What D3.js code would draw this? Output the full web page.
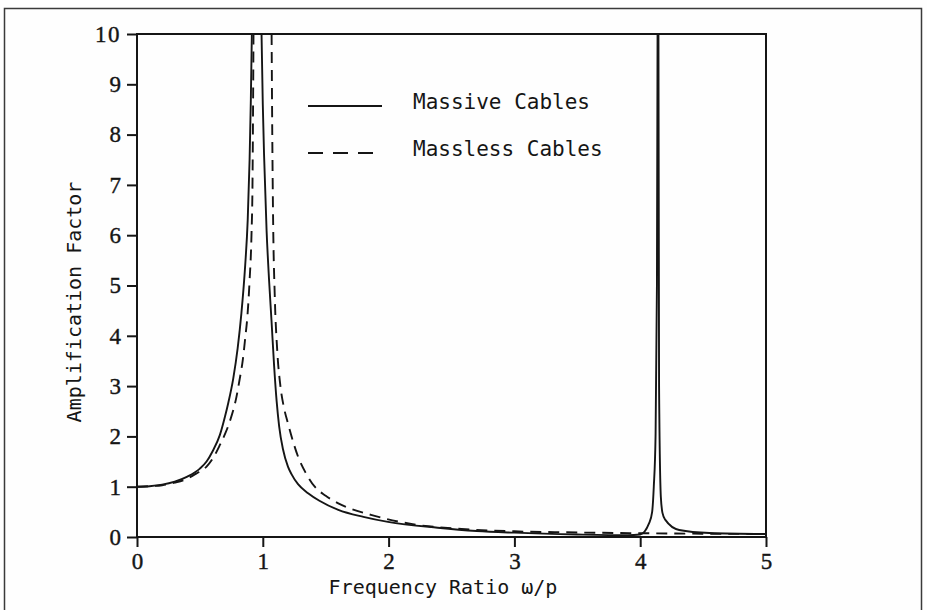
<!DOCTYPE html>
<html>
<head>
<meta charset="utf-8">
<script src="https://cdn.jsdelivr.net/npm/d3@7/dist/d3.min.js"></script>
<style>
  html, body { margin: 0; padding: 0; background: #fefefe; }
  svg { display: block; }
</style>
</head>
<body>
<svg id="chart" width="927" height="610"></svg>
<script>
var xTicks = [0, 1, 2, 3, 4, 5];
var yTicks = [0, 1, 2, 3, 4, 5, 6, 7, 8, 9, 10];
var seriesNames = ['Massive Cables', 'Massless Cables'];

// null = off the top of the plot
var massiveR = [0, 0.1, 0.2, 0.3, 0.4, 0.5, 0.553, 0.6, 0.659, 0.7, 0.725, 0.765, 0.8, 0.83, 0.86, 0.88, 0.895, 0.905, 0.913,
                0.95,
                0.99, 1.0, 1.01, 1.03, 1.05, 1.069, 1.09, 1.11, 1.13, 1.16, 1.2, 1.228, 1.28, 1.36, 1.45, 1.6, 1.8, 1.995,
                2.39, 2.7, 3.0, 3.5, 3.9, 4.0,
                4.07, 4.095, 4.108, 4.122, 4.133, 4.138,
                4.141,
                4.145, 4.15, 4.164, 4.177, 4.2, 4.31, 4.55, 5.0];
var massiveA = [1.0, 1.01, 1.04, 1.1, 1.2, 1.36, 1.5, 1.7, 2.03, 2.4, 2.66, 3.15, 3.75, 4.45, 5.4, 6.3, 7.5, 8.7, 10,
                null,
                10, 8.6, 7.6, 6.1, 5.1, 4.31, 3.4, 2.7, 2.2, 1.75, 1.4, 1.25, 1.05, 0.87, 0.72, 0.54, 0.4, 0.3,
                0.185, 0.12, 0.086, 0.05, 0.035, 0.05,
                0.27, 0.5, 1.0, 2.0, 5.0, 10,
                null,
                10, 3.0, 0.8, 0.48, 0.34, 0.14, 0.08, 0.06];

var masslessR = [0, 0.1, 0.2, 0.3, 0.4, 0.47, 0.553, 0.6, 0.659, 0.7, 0.738, 0.791, 0.817, 0.84, 0.86, 0.878, 0.895, 0.91, 0.918, 0.922, 0.926,
                 1.0,
                 1.07, 1.075, 1.082, 1.095, 1.115, 1.14, 1.17, 1.2, 1.28, 1.34, 1.413, 1.5, 1.6, 1.86, 2.18, 2.58, 3.0, 3.5, 4.0, 4.5, 5.0];
var masslessA = [1.0, 1.01, 1.03, 1.08, 1.16, 1.26, 1.4, 1.55, 1.83, 2.05, 2.3, 2.79, 3.15, 3.5, 3.95, 4.4, 5.1, 6.0, 7.0, 8.3, 10,
                 null,
                 10, 8.1, 6.3, 4.8, 3.7, 3.0, 2.55, 2.26, 1.6, 1.28, 1.0, 0.82, 0.67, 0.44, 0.26, 0.16, 0.113, 0.09, 0.075, 0.065, 0.06];

var svg = d3.select("#chart");
var ink = "#151515";
var mono = "'DejaVu Sans Mono', monospace";
var serif = "'Liberation Serif', 'Times New Roman', serif";

// outer page frame
svg.append("path")
    .attr("d", "M4.5,620 L4.5,8.5 L921.5,8.5 L921.5,620")
    .attr("fill", "none")
    .attr("stroke", "#3a3a3a")
    .attr("stroke-width", 1.5);

var x = d3.scaleLinear().domain([0, 5]).range([137, 766]);
var y = d3.scaleLinear().domain([0, 10]).range([537, 34]);

svg.append("clipPath").attr("id", "plotclip")
  .append("rect")
    .attr("x", x(0)).attr("y", y(10))
    .attr("width", x(5) - x(0)).attr("height", y(0) - y(10));

var yAxis = d3.axisLeft(y).tickValues(yTicks).tickSize(10).tickPadding(6).tickSizeOuter(0)
    .tickFormat(d3.format("d"));
var xAxis = d3.axisBottom(x).tickValues(xTicks).tickSize(10).tickPadding(6).tickSizeOuter(0)
    .tickFormat(d3.format("d"));

var gy = svg.append("g").attr("transform", "translate(" + x(0) + ",0)").call(yAxis);
var gx = svg.append("g").attr("transform", "translate(0," + y(0) + ")").call(xAxis);

[gx, gy].forEach(function(g) {
    g.select(".domain").remove();
    g.selectAll("line").attr("stroke", ink).attr("stroke-width", 2);
    g.selectAll("text")
        .attr("fill", ink)
        .attr("stroke", ink)
        .attr("stroke-width", 0.4)
        .style("font-family", serif)
        .style("font-size", "23px");
});
gy.selectAll("text").attr("letter-spacing", function(d) { return d == 10 ? 1.5 : 0; });

// plot box
svg.append("rect")
    .attr("x", x(0)).attr("y", y(10))
    .attr("width", x(5) - x(0)).attr("height", y(0) - y(10))
    .attr("fill", "none")
    .attr("stroke", ink)
    .attr("stroke-width", 2);

var line = d3.line()
    .defined(function(d) { return d[1] != null; })
    .x(function(d) { return x(d[0]); })
    .y(function(d) { return y(d[1]); })
    .curve(d3.curveMonotoneX);

var massive = massiveR.map(function(r, i) { return [r, massiveA[i]]; });
var massless = masslessR.map(function(r, i) { return [r, masslessA[i]]; });

var curves = svg.append("g").attr("clip-path", "url(#plotclip)");
curves.append("path")
    .attr("d", line(massless))
    .attr("fill", "none")
    .attr("stroke", ink)
    .attr("stroke-width", 1.9)
    .attr("stroke-dasharray", "11,7");
curves.append("path")
    .attr("d", line(massive))
    .attr("fill", "none")
    .attr("stroke", ink)
    .attr("stroke-width", 1.9);

// legend
var legend = svg.append("g");
var legendRows = [
    {name: seriesNames[0], y: 106, x2: 382, dash: null},
    {name: seriesNames[1], y: 153, x2: 373, dash: "15,10"}
];
legendRows.forEach(function(r, i) {
    legend.append("line")
        .attr("x1", 308).attr("x2", r.x2)
        .attr("y1", r.y).attr("y2", r.y)
        .attr("stroke", ink)
        .attr("stroke-width", 1.9)
        .attr("stroke-dasharray", r.dash);
    legend.append("text")
        .attr("x", 413).attr("y", r.y + 3)
        .attr("fill", ink)
        .style("font-family", mono)
        .style("font-size", "21px")
        .text(r.name);
});

// axis titles
svg.append("text")
    .attr("x", 443).attr("y", 594)
    .attr("text-anchor", "middle")
    .attr("fill", ink)
    .style("font-family", mono)
    .style("font-size", "20px")
    .text("Frequency Ratio \u03c9/p");

svg.append("text")
    .attr("transform", "translate(81,302) rotate(-90)")
    .attr("text-anchor", "middle")
    .attr("fill", ink)
    .style("font-family", mono)
    .style("font-size", "20px")
    .text("Amplification Factor");
</script>
</body>
</html>
